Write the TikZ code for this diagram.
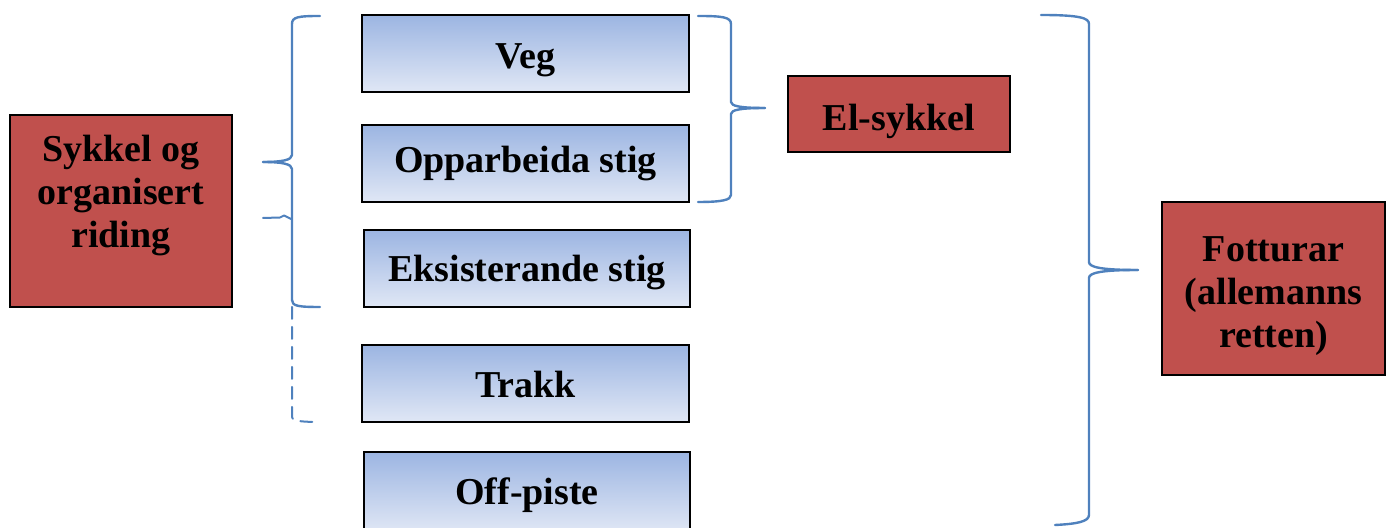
\documentclass[tikz,border=0pt]{standalone}
\usepackage{fontspec}
\setmainfont{Liberation Serif}
\definecolor{bracecol}{HTML}{4F81BD}
\definecolor{redbox}{HTML}{C0504D}
\definecolor{bluetop}{HTML}{9CB5E2}
\definecolor{bluebot}{HTML}{E0E7F5}
\tikzset{
  bluebox/.style={draw=black, line width=0.7pt, top color=bluetop, bottom color=bluebot, inner sep=0pt},
  rednode/.style={draw=black, line width=0.6pt, fill=redbox, inner sep=0pt},
  boxtext/.style={inner sep=0pt, align=center, font=\fontsize{19}{21.5}\selectfont\bfseries},
  bracket/.style={draw=bracecol, line width=1.2pt, line cap=round, line join=round}
}
\begin{document}
\begin{tikzpicture}[x=0.5pt,y=-0.5pt]
\useasboundingbox (0,0) rectangle (1389,528);
% blue boxes
\node[bluebox, minimum width=163.5pt, minimum height=38.5pt] (veg) at (525.5,53.5) {};
\node[bluebox, minimum width=163.5pt, minimum height=38.5pt] (opp) at (525.5,163.5) {};
\node[bluebox, minimum width=163pt, minimum height=38.5pt] (eks) at (527,268.5) {};
\node[bluebox, minimum width=163.5pt, minimum height=38.5pt] (trakk) at (525.5,383.5) {};
\node[bluebox, minimum width=163pt, minimum height=40pt] (off) at (527,492) {};
\node[boxtext, yshift=-3.5pt] (vegt) at (veg.center) {Veg};
\node[boxtext] (oppt) at (opp.center) {Opparbeida stig};
\node[boxtext, yshift=-2pt] (ekst) at (eks.center) {Eksisterande stig};
\node[boxtext, yshift=-0.5pt] (trakkt) at (trakk.center) {Trakk};
\node[boxtext, yshift=-1.5pt] (offt) at (off.center) {Off-piste};
% red boxes
\node[rednode, minimum width=111pt, minimum height=96pt] (sykkel) at (121,211) {};
\node[boxtext, anchor=north] (sykkelt) at (121,135) {Sykkel og\\organisert\\riding};
\node[rednode, minimum width=111pt, minimum height=38pt] (el) at (899,114) {};
\node[boxtext, yshift=-3.5pt] (elt) at (el.center) {El-sykkel};
\node[rednode, minimum width=111.5pt, minimum height=86.5pt] (fot) at (1273.5,288.5) {};
\node[boxtext, yshift=-4pt] (fott) at (fot.center) {Fotturar\\(allemanns\\retten)};
% left brace
\draw[bracket] (320,16) .. controls (298,16) and (292,17) .. (292,24) -- (292,155)
  .. controls (292,160) and (282,162) .. (263,162);
\draw[bracket] (263,162) .. controls (282,162) and (292,164) .. (292,169) -- (292,300)
  .. controls (292,306) and (298,307) .. (320,307);
\draw[bracket, line width=1pt] (263,218) -- (280,217.5) -- (284,215.5) -- (291,219);
\draw[bracket, line width=1pt, dashed, dash pattern=on 6pt off 4pt] (292,307) -- (292,417)
  .. controls (292,420) and (296,422) .. (320,422);
% middle brace
\draw[bracket] (698,16) .. controls (722,16) and (731,17) .. (731,24) -- (731,102)
  .. controls (731,106) and (740,108) .. (765,108);
\draw[bracket] (765,108) .. controls (740,108) and (731,110) .. (731,114) -- (731,195)
  .. controls (731,200) and (722,202) .. (698,202);
% right brace
\draw[bracket] (1041,15) .. controls (1080,15) and (1089,18) .. (1089,24) -- (1089,262)
  .. controls (1089,267) and (1100,270) .. (1138,270);
\draw[bracket] (1138,270) .. controls (1100,270) and (1089,273) .. (1089,278) -- (1089,515)
  .. controls (1089,522) and (1075,524) .. (1055,525);
\end{tikzpicture}
\end{document}
